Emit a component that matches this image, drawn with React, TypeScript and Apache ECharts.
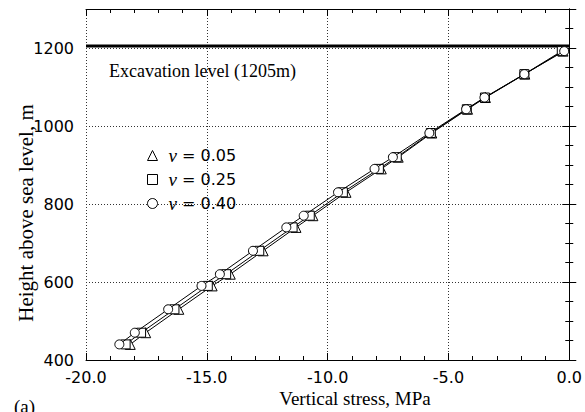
import React, { useEffect, useRef } from "react";
import * as echarts from "echarts";

const heights = [440, 470, 530, 590, 620, 680, 740, 770, 830, 890, 920, 982, 1043, 1073, 1133, 1192];
const stressNu005 = [-18.17, -17.53, -16.16, -14.78, -14.03, -12.67, -11.31, -10.61, -9.24, -7.78, -7.08, -5.69, -4.21, -3.47, -1.84, -0.26];
const stressNu025 = [-18.36, -17.72, -16.34, -14.96, -14.2, -12.83, -11.45, -10.74, -9.37, -7.88, -7.14, -5.73, -4.24, -3.49, -1.86, -0.31];
const stressNu040 = [-18.62, -17.98, -16.6, -15.22, -14.46, -13.09, -11.71, -10.99, -9.57, -8.06, -7.3, -5.79, -4.27, -3.51, -1.86, -0.21];
const seriesNames = ["ν = 0.05", "ν = 0.25", "ν = 0.40"];
const seriesSymbols = ["triangle", "rect", "circle"];
const excavationLevel = 1205;
const xRange = [-20, 0];
const yRange = [400, 1300];

export default function App() {
  const ref = useRef<HTMLDivElement>(null);
  useEffect(() => {
    if (!ref.current) return;
    document.body.style.margin = "0";
    const chart = echarts.init(ref.current, null, { renderer: "svg" });
    const allStress = [stressNu005, stressNu025, stressNu040];
    const sans = "DejaVu Sans";
    const serif = "Liberation Serif";
    const axisCommon = {
      type: "value",
      axisLine: { show: true, lineStyle: { color: "#000", width: 1 } },
      axisTick: { show: true, inside: true, length: 7, lineStyle: { color: "#000" } },
      minorTick: { show: true, length: 4, lineStyle: { color: "#000" } },
    };
    const lineSeries = seriesNames.map((name, i) => ({
      name,
      type: "line",
      data: allStress[i].map((s, j) => [s, heights[j]]),
      symbol: seriesSymbols[i],
      symbolSize: i === 0 ? 10 : 9,
      itemStyle: { color: "#fff", borderColor: "#000", borderWidth: 1 },
      lineStyle: { color: "#000", width: 1 },
      z: 3 + i,
    }));
    chart.setOption({
      animation: false,
      backgroundColor: "#fff",
      grid: { left: 86, right: 15, top: 9, bottom: 52 },
      xAxis: [
        {
          ...axisCommon,
          position: "bottom",
          min: xRange[0],
          max: xRange[1],
          interval: 5,
          minorTick: { show: true, splitNumber: 5, length: 4, lineStyle: { color: "#000" } },
          axisLabel: {
            color: "#000",
            fontFamily: sans,
            fontSize: 16,
            margin: 9,
            formatter: (v: number) => v.toFixed(1),
          },
          splitLine: { show: true, lineStyle: { color: "#333", type: [1, 2], width: 1 } },
        },
        {
          ...axisCommon,
          position: "top",
          min: xRange[0],
          max: xRange[1],
          interval: 5,
          minorTick: { show: true, splitNumber: 5, length: 4, lineStyle: { color: "#000" } },
          axisLabel: { show: false },
          splitLine: { show: false },
        },
      ],
      yAxis: [
        {
          ...axisCommon,
          position: "left",
          min: yRange[0],
          max: yRange[1],
          interval: 200,
          minorTick: { show: true, splitNumber: 4, length: 4, lineStyle: { color: "#000" } },
          axisLabel: {
            color: "#000",
            fontFamily: sans,
            fontSize: 16,
            margin: 12,
            formatter: (v: number) => (v > 1200 ? "" : String(v)),
          },
          splitLine: { show: true, lineStyle: { color: "#333", type: [1, 2], width: 1 } },
        },
        {
          ...axisCommon,
          position: "right",
          min: yRange[0],
          max: yRange[1],
          interval: 200,
          minorTick: { show: true, splitNumber: 4, length: 4, lineStyle: { color: "#000" } },
          axisLabel: { show: false },
          splitLine: { show: false },
        },
      ],
      legend: {
        orient: "vertical",
        left: 142,
        top: 141,
        itemWidth: 10,
        itemHeight: 10,
        itemGap: 5,
        data: seriesNames.map((n, i) => ({ name: n, icon: seriesSymbols[i] })),
        itemStyle: { color: "#fff", borderColor: "#000", borderWidth: 1 },
        formatter: (name: string) => `{nu|ν}{t|${name.slice(1)}}`,
        textStyle: {
          color: "#000",
          rich: {
            nu: { fontFamily: serif, fontStyle: "italic", fontSize: 19, padding: [0, 0, 0, 6], color: "#000" },
            t: { fontFamily: sans, fontSize: 16, color: "#000" },
          },
        },
      },
      graphic: [
        {
          type: "text",
          left: 109,
          top: 62,
          style: { text: "Excavation level (1205m)", font: `18px "${serif}"`, fill: "#000" },
        },
        {
          type: "text",
          x: 26,
          y: 213,
          rotation: Math.PI / 2,
          style: {
            text: "Height above sea level, m",
            font: `21px "${serif}"`,
            fill: "#000",
            align: "center",
            verticalAlign: "middle",
          },
        },
        {
          type: "text",
          x: 355,
          y: 398,
          style: {
            text: "Vertical stress, MPa",
            font: `19px "${serif}"`,
            fill: "#000",
            align: "center",
            verticalAlign: "middle",
          },
        },
        {
          type: "text",
          left: 14,
          top: 397,
          style: { text: "(a)", font: `19px "${serif}"`, fill: "#000" },
        },
      ],
      series: [
        {
          name: "excavation",
          type: "line",
          data: [
            [xRange[0], excavationLevel],
            [xRange[1], excavationLevel],
          ],
          symbol: "none",
          lineStyle: { color: "#000", width: 3 },
          silent: true,
          z: 2,
        },
        ...lineSeries,
      ],
    });
    return () => chart.dispose();
  }, []);
  return <div ref={ref} style={{ width: 585, height: 412 }} />;
}
